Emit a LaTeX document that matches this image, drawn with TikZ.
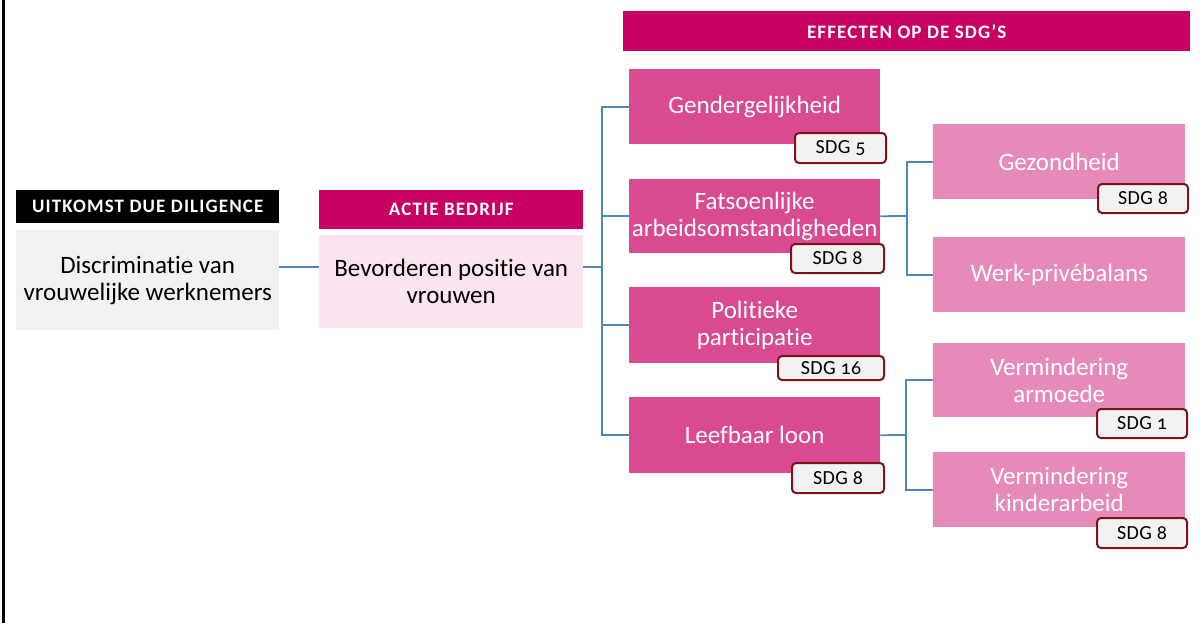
\documentclass[tikz,border=0pt]{standalone}
\usepackage{fontspec}
\setmainfont{Carlito}[Numbers=OldStyle, Ligatures=NoCommon]
\newfontfamily\hdrfont{Carlito Bold}[Ligatures=NoCommon, LetterSpace=6]
\newfontfamily\badgefont{Carlito}[Numbers=OldStyle, Ligatures=NoCommon, LetterSpace=2]
\definecolor{magHead}{HTML}{C90062}
\definecolor{pinkMid}{HTML}{D94A91}
\definecolor{pinkLight}{HTML}{E68AB9}
\definecolor{pinkPale}{HTML}{FCE4F0}
\definecolor{grayBox}{HTML}{F2F2F2}
\definecolor{linkBlue}{HTML}{5585B5}
\definecolor{badgeRed}{HTML}{7A1418}
\tikzset{
  hdr/.style={anchor=north west, inner sep=0pt, text=white, font=\hdrfont\fontsize{19}{22}\selectfont, align=center},
  txtbox/.style={anchor=north west, inner sep=0pt, align=center, font=\fontsize{25}{27}\selectfont},
  midbox/.style={txtbox, fill=pinkMid, text=white},
  litbox/.style={txtbox, fill=pinkLight, text=white},
  badge/.style={anchor=north west, inner sep=0pt, fill=grayBox, draw=badgeRed, line width=2pt, rounded corners=4pt, font=\badgefont\fontsize{20}{22}\selectfont},
  link/.style={draw=linkBlue, line width=1.8pt}
}
\begin{document}
\begin{tikzpicture}[x=1pt,y=-1pt]
\useasboundingbox (0,0) rectangle (1200,625);
\fill[white] (0,0) rectangle (1200,625);
\draw[line width=3pt] (3,0) -- (3,623);

% left column
\node[hdr, fill=black, minimum width=263pt, minimum height=33pt] (h1) at (16,190) {UITKOMST DUE DILIGENCE};
\node[txtbox, fill=grayBox, minimum width=263pt, minimum height=100pt] (disc) at (16,230) {Discriminatie van\\vrouwelijke werknemers};

% middle column
\node[hdr, fill=magHead, minimum width=264pt, minimum height=39pt] (h2) at (319,190) {ACTIE BEDRIJF};
\node[txtbox, fill=pinkPale, minimum width=264pt, minimum height=93pt] (act) at (319,235) {Bevorderen positie van\\vrouwen};

% right header
\node[hdr, fill=magHead, minimum width=567pt, minimum height=40pt] (h3) at (623,11) {EFFECTEN OP DE SDG’S};

% effect boxes
\node[midbox, minimum width=251pt, minimum height=75pt] (g1) at (629,69) {Gendergelijkheid};
\node[midbox, minimum width=251pt, minimum height=74pt] (g2) at (629,179) {Fatsoenlijke\\arbeidsomstandigheden};
\node[midbox, minimum width=251pt, minimum height=76pt] (g3) at (629,287) {Politieke\\participatie};
\node[midbox, minimum width=251pt, minimum height=76pt] (g4) at (629,397) {Leefbaar loon};

\node[badge, minimum width=91pt, minimum height=30pt] (b1) at (794,132) {SDG 5};
\node[badge, minimum width=93pt, minimum height=29pt] (b2) at (790,243) {SDG 8};
\node[badge, minimum width=106pt, minimum height=24pt] (b3) at (777,355) {SDG 16};
\node[badge, minimum width=92pt, minimum height=30pt] (b4) at (791,462) {SDG 8};

% sub-effect boxes
\node[litbox, minimum width=252pt, minimum height=75pt] (s1) at (933,124) {Gezondheid};
\node[litbox, minimum width=252pt, minimum height=75pt] (s2) at (933,237) {Werk-privébalans};
\node[litbox, minimum width=252pt, minimum height=74pt] (s3) at (933,343) {Vermindering\\armoede};
\node[litbox, minimum width=252pt, minimum height=75pt] (s4) at (933,452) {Vermindering\\kinderarbeid};

\node[badge, minimum width=90pt, minimum height=29pt] (c1) at (1097,183) {SDG 8};
\node[badge, minimum width=90pt, minimum height=29pt] (c3) at (1096,408) {SDG 1};
\node[badge, minimum width=90pt, minimum height=30pt] (c4) at (1096,517) {SDG 8};

% connectors
\coordinate (y0) at (300,267);
\draw[link] (disc.east |- y0) -- (act.west |- y0);
\coordinate (hub) at (602,267);
\draw[link] (act.east |- hub) -- (hub);
\draw[link] (g1.west) -| (hub) |- (g4.west);
\draw[link] (hub) |- (g2.west);
\draw[link] (hub) |- (g3.west);

\coordinate (hubA) at (907,216);
\draw[link] (g2.east) -- (hubA);
\draw[link] (s1.west) -| (hubA) |- (s2.west);

\coordinate (hubB) at (906,435);
\draw[link] (g4.east) -- (hubB);
\draw[link] (s3.west) -| (hubB) |- (s4.west);
\end{tikzpicture}
\end{document}
